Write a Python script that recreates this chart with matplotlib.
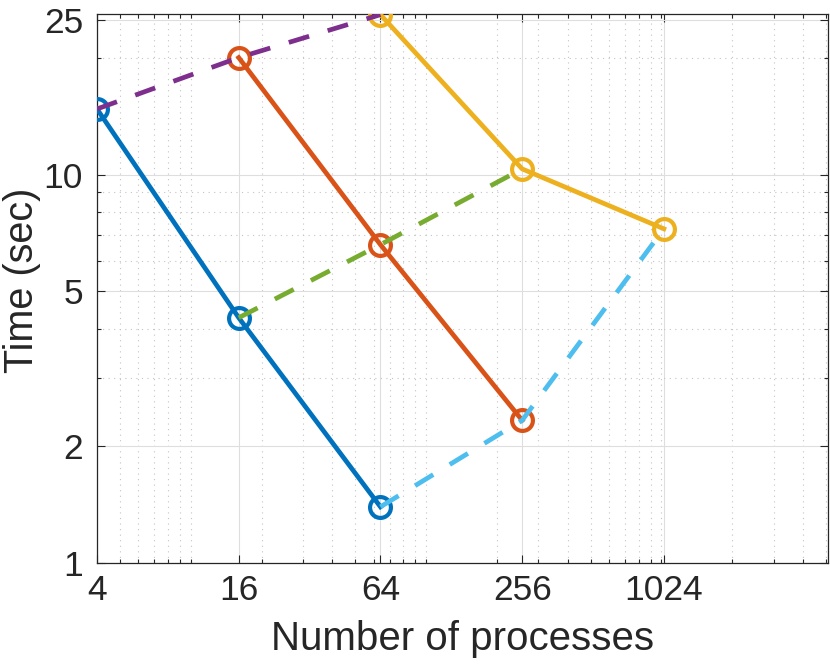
import matplotlib
matplotlib.use("Agg")
import matplotlib.pyplot as plt
from matplotlib.ticker import LogLocator, NullFormatter, FixedLocator

plt.rcParams['font.family'] = ['Liberation Sans', 'DejaVu Sans']

# Data
procs_a = [4, 16, 64]
time_a = [14.75, 4.28, 1.395]
procs_b = [16, 64, 256]
time_b = [20.0, 6.60, 2.33]
procs_c = [64, 256, 1024]
time_c = [25.8, 10.34, 7.25]

# dashed connectors (same problem size per process)
dash1_x = [4, 16, 64]
dash1_y = [14.75, 20.0, 25.8]
dash2_x = [16, 64, 256]
dash2_y = [4.28, 6.60, 10.34]
dash3_x = [64, 256, 1024]
dash3_y = [1.395, 2.33, 7.25]

xticks = [4, 16, 64, 256, 1024]
yticks = [1, 2, 5, 10, 25]

c_blue = '#0072BD'
c_orange = '#D95319'
c_yellow = '#EDB120'
c_purple = '#7E2F8E'
c_green = '#77AC30'
c_lblue = '#4DBEEE'
txt = '#262626'

fig = plt.figure(figsize=(8.30, 6.69), dpi=100)
ax = fig.add_axes([97/830, 1-563/669, (828-97)/830, (563-14)/669])
ax.set_xscale('log')
ax.set_yscale('log')

lw = 3.4
ms = 15
mew = 3.0
for xs, ys, c in [(procs_a, time_a, c_blue), (procs_b, time_b, c_orange), (procs_c, time_c, c_yellow)]:
    ax.plot(xs, ys, '-', color=c, lw=lw, marker='o', ms=ms, mew=mew, mfc='none', mec=c, zorder=3)
for xs, ys, c in [(dash1_x, dash1_y, c_purple), (dash2_x, dash2_y, c_green), (dash3_x, dash3_y, c_lblue)]:
    ax.plot(xs, ys, color=c, lw=lw, dashes=(4.5, 4.1), zorder=4)

ax.set_xlim(4, 5100)
ax.set_ylim(1, 25.9)

ax.xaxis.set_major_locator(FixedLocator(xticks))
ax.set_xticklabels([str(v) for v in xticks])
ax.yaxis.set_major_locator(FixedLocator(yticks))
ax.set_yticklabels([str(v) for v in yticks])
ax.xaxis.set_minor_locator(LogLocator(base=10, subs=range(1, 10)))
ax.yaxis.set_minor_locator(LogLocator(base=10, subs=range(1, 10)))
ax.xaxis.set_minor_formatter(NullFormatter())
ax.yaxis.set_minor_formatter(NullFormatter())

ax.tick_params(which='both', direction='in', top=True, right=True, color=txt, width=0.8)
ax.tick_params(which='major', length=6, labelsize=25.5, labelcolor=txt)
ax.tick_params(axis='x', which='major', pad=8)
ax.tick_params(axis='y', which='major', pad=10)
ax.tick_params(which='minor', length=3)

ax.grid(True, which='major', color='#dedede', lw=0.8, ls='-', zorder=0)
ax.grid(True, which='minor', color='#c4c4c4', lw=0.8, ls=(0, (1, 4)), zorder=0)
ax.set_axisbelow(True)

for s in ax.spines.values():
    s.set_color(txt)
    s.set_linewidth(0.9)

ax.set_xlabel('Number of processes', fontsize=29, color=txt, labelpad=9)
ax.set_ylabel('Time (sec)', fontsize=28.5, color=txt)
ax.yaxis.set_label_coords(-0.0766, 0.515)

fig.savefig('out.png', dpi=100)
